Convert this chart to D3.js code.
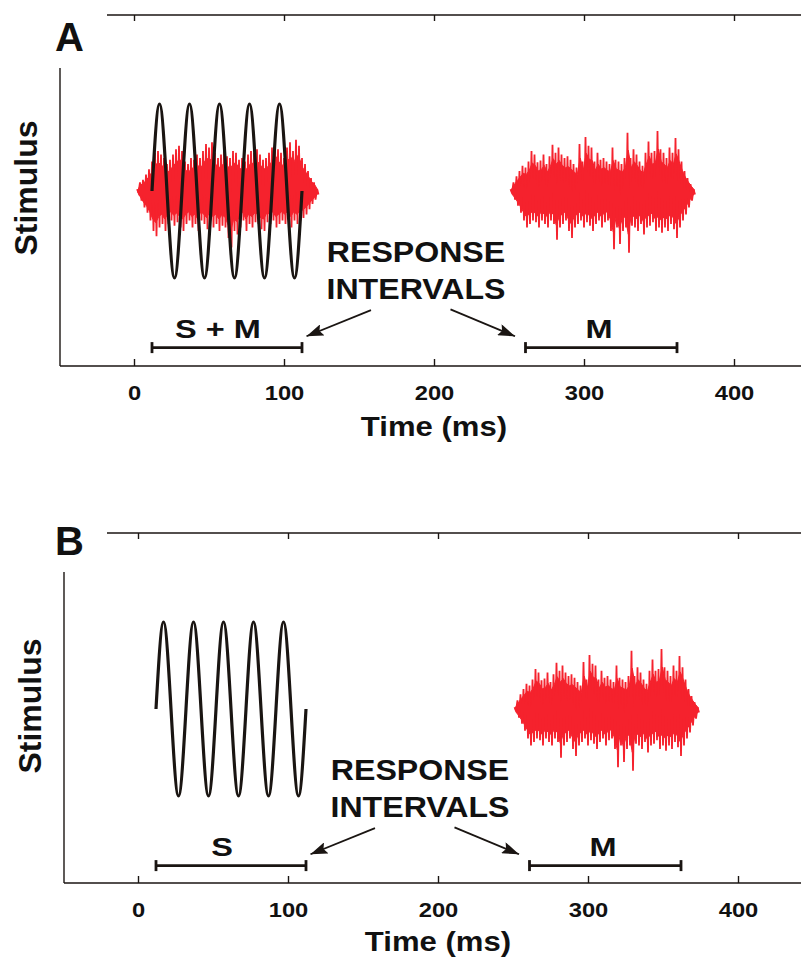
<!DOCTYPE html>
<html>
<head>
<meta charset="utf-8">
<script src="https://cdn.jsdelivr.net/npm/d3@7"></script>
<style>
  body { margin: 0; background: #fff; }
  svg text { font-family: "Liberation Sans", Arial, Helvetica, sans-serif; font-weight: bold; fill: #111; }
</style>
</head>
<body>
<svg id="fig" width="801" height="963"></svg>
<script>
// ---- Time axis ----
const tickValues = [0, 100, 200, 300, 400];
const tickLabels = ["0", "100", "200", "300", "400"];

// ---- Signal tone: zero crossings and extremes (ms, stimulus units) ----
const toneTimes  = [12, 17, 22, 27, 32, 37, 42, 47, 52, 57, 62, 67, 72, 77, 82, 87, 92, 97, 102, 107, 112];
const toneValues = [0, 1, 0, -1, 0, 1, 0, -1, 0, 1, 0, -1, 0, 1, 0, -1, 0, 1, 0, -1, 0];

// ---- Masker noise: positive / negative excursions in 2 ms bins ----
const noiseStep = 2;
const maskerOnset = 251;
const maskerUpper = [0.02,0.10,0.17,0.23,0.29,0.27,0.34,0.46,0.42,0.33,
                     0.35,0.42,0.31,0.40,0.53,0.44,0.50,0.42,0.38,0.40,
                     0.36,0.31,0.27,0.54,0.34,0.62,0.52,0.50,0.34,0.44,
                     0.36,0.38,0.34,0.31,0.50,0.36,0.34,0.31,0.38,0.67,
                     0.38,0.48,0.42,0.34,0.29,0.44,0.57,0.44,0.46,0.69,
                     0.48,0.44,0.38,0.50,0.44,0.61,0.48,0.34,0.23,0.15,
                     0.08,0.02];
const maskerLower = [-0.02,-0.10,-0.17,-0.25,-0.34,-0.42,-0.38,-0.34,-0.36,-0.42,
                     -0.34,-0.38,-0.42,-0.34,-0.38,-0.56,-0.42,-0.38,-0.34,-0.46,
                     -0.54,-0.42,-0.38,-0.34,-0.42,-0.36,-0.40,-0.46,-0.38,-0.34,
                     -0.42,-0.36,-0.34,-0.46,-0.67,-0.42,-0.61,-0.46,-0.42,-0.71,
                     -0.40,-0.42,-0.46,-0.38,-0.50,-0.42,-0.40,-0.36,-0.46,-0.42,
                     -0.48,-0.42,-0.46,-0.38,-0.44,-0.54,-0.42,-0.34,-0.27,-0.19,
                     -0.11,-0.04];

// Noise presented together with the tone (panel A, first interval)
const simOnset = 2;
const simUpper = [0.02,0.10,0.13,0.19,0.25,0.34,0.44,0.46,0.42,0.38,
                  0.31,0.36,0.42,0.48,0.52,0.46,0.34,0.31,0.38,0.36,
                  0.42,0.38,0.46,0.54,0.50,0.56,0.44,0.38,0.42,0.46,
                  0.40,0.38,0.46,0.44,0.36,0.38,0.34,0.42,0.46,0.44,
                  0.48,0.42,0.36,0.38,0.44,0.50,0.57,0.48,0.44,0.38,
                  0.50,0.56,0.46,0.59,0.52,0.38,0.31,0.23,0.15,0.10,
                  0.02];
const simLower = [-0.02,-0.11,-0.19,-0.25,-0.34,-0.46,-0.52,-0.42,-0.38,-0.46,
                  -0.38,-0.34,-0.40,-0.36,-0.42,-0.46,-0.38,-0.34,-0.42,-0.38,
                  -0.46,-0.34,-0.38,-0.44,-0.34,-0.42,-0.38,-0.46,-0.40,-0.42,
                  -0.54,-0.65,-0.46,-0.50,-0.42,-0.34,-0.46,-0.38,-0.42,-0.36,
                  -0.38,-0.44,-0.46,-0.36,-0.38,-0.34,-0.42,-0.38,-0.34,-0.38,
                  -0.33,-0.42,-0.34,-0.38,-0.34,-0.31,-0.27,-0.21,-0.15,-0.10,
                  -0.04];

// ---- Response intervals (ms) ----
const intervalLabelsA = ["S + M", "M"];
const intervalLabelsB = ["S", "M"];
const intervalStarts  = [12, 261];
const intervalEnds    = [112, 362];
const intervalLabelAt = [56, 310];

const responseLines = ["RESPONSE", "INTERVALS"];

// ---- Panel layout ----
const W = 801;
const panels = [
  { letter: "A", letterY: 51, zeroX: 134, leftX: 60, topY: 15, plotTop: 68, plotBottom: 366,
    zeroY: 191, tickY: 400, titleY: 436, ylabX: 37, ylabY: 188,
    labels: intervalLabelsA, tone: true, noise: [[simOnset, simUpper, simLower], [maskerOnset, maskerUpper, maskerLower]] },
  { letter: "B", letterY: 555, zeroX: 138, leftX: 64, topY: 533, plotTop: 572, plotBottom: 883,
    zeroY: 709, tickY: 917, titleY: 951, ylabX: 41, ylabY: 706,
    labels: intervalLabelsB, tone: true, noise: [[maskerOnset, maskerUpper, maskerLower]] }
];

const svg = d3.select("#fig");
const ink = "#1a1512";
const red = "#f5222d";

// widen bold lettering horizontally by factor k
function widen(sel, k) {
  sel.each(function () {
    const len = this.getComputedTextLength();
    d3.select(this).attr("textLength", len * k).attr("lengthAdjust", "spacingAndGlyphs");
  });
}

svg.append("defs").append("marker")
  .attr("id", "head").attr("markerUnits", "userSpaceOnUse")
  .attr("viewBox", "0 0 17 12").attr("markerWidth", 17).attr("markerHeight", 12)
  .attr("refX", 17).attr("refY", 6).attr("orient", "auto")
  .append("path").attr("d", "M0,0 L17,6 L0,12 L3,6 Z").attr("fill", ink);

panels.forEach(p => {
  const x = d3.scaleLinear().domain([0, 400]).range([p.zeroX, p.zeroX + 600]);
  const y = d3.scaleLinear().domain([-1, 1]).range([p.zeroY + 87, p.zeroY - 87]);
  const g = svg.append("g");

  // top frame axis, ticks pointing down, no labels
  const topAxis = d3.axisTop(x).tickValues(tickValues).tickFormat("").tickSizeInner(-6).tickSizeOuter(0);
  const gt = g.append("g").attr("transform", `translate(0,${p.topY})`).call(topAxis);
  gt.select(".domain").remove();
  gt.selectAll("line").attr("stroke", ink).attr("stroke-width", 1.4);
  g.append("line").attr("x1", 107).attr("x2", W).attr("y1", p.topY).attr("y2", p.topY)
    .attr("stroke", ink).attr("stroke-width", 1.4);

  // bottom time axis, ticks pointing up
  const botAxis = d3.axisBottom(x).tickValues(tickValues).tickFormat((d, i) => tickLabels[i])
    .tickSizeInner(-7).tickSizeOuter(0);
  const gb = g.append("g").attr("transform", `translate(0,${p.plotBottom})`).call(botAxis);
  gb.select(".domain").remove();
  gb.selectAll("line").attr("stroke", ink).attr("stroke-width", 1.4);
  gb.selectAll("text").attr("y", p.tickY - p.plotBottom).attr("dy", null)
    .attr("font-size", 21).attr("font-family", null).attr("fill", null)
    .call(widen, 1.13);
  g.append("line").attr("x1", p.leftX).attr("x2", W).attr("y1", p.plotBottom).attr("y2", p.plotBottom)
    .attr("stroke", ink).attr("stroke-width", 1.4);

  // left stimulus axis
  g.append("line").attr("x1", p.leftX).attr("x2", p.leftX).attr("y1", p.plotTop).attr("y2", p.plotBottom)
    .attr("stroke", ink).attr("stroke-width", 1.4);

  // titles
  g.append("text").attr("x", x(200)).attr("y", p.titleY).attr("text-anchor", "middle")
    .attr("font-size", 28).text("Time (ms)").call(widen, 1.11);
  g.append("text").attr("transform", `translate(${p.ylabX},${p.ylabY}) rotate(-90)`)
    .attr("text-anchor", "middle").attr("font-size", 32).text("Stimulus");
  g.append("text").attr("x", 55).attr("y", p.letterY).attr("font-size", 40).text(p.letter);

  // noise waveforms: solid body plus alternating positive / negative excursions
  const wave = d3.line().x(d => x(d[0])).y(d => y(d[1]));
  const body = d3.area().x((d, i) => x(d[0])).y0(d => y(d[2])).y1(d => y(d[1]));
  p.noise.forEach(([onset, up, lo]) => {
    const pts = [];
    const bins = [];
    up.forEach((v, i) => {
      pts.push([onset + i * noiseStep, v]);
      pts.push([onset + i * noiseStep + noiseStep / 2, lo[i]]);
      bins.push([onset + i * noiseStep + noiseStep / 4, v * 0.7, lo[i] * 0.7]);
    });
    g.append("path").attr("d", body(bins)).attr("fill", red).attr("stroke", red).attr("stroke-width", 1);
    g.append("path").attr("d", wave(pts)).attr("fill", "none")
      .attr("stroke", red).attr("stroke-width", 1.8).attr("stroke-linejoin", "miter");
  });

  // tone
  if (p.tone) {
    const tone = d3.line().x((d, i) => x(toneTimes[i])).y((d, i) => y(toneValues[i])).curve(d3.curveNatural);
    g.append("path").attr("d", tone(toneTimes)).attr("fill", "none")
      .attr("stroke", ink).attr("stroke-width", 3.2);
  }

  // response-interval bars
  const barY = y(-1.8);
  intervalStarts.forEach((s, i) => {
    const e = intervalEnds[i];
    g.append("line").attr("x1", x(s)).attr("x2", x(e)).attr("y1", barY).attr("y2", barY)
      .attr("stroke", ink).attr("stroke-width", 2.8);
    [s, e].forEach(t => g.append("line").attr("x1", x(t)).attr("x2", x(t))
      .attr("y1", barY - 5.5).attr("y2", barY + 5.5).attr("stroke", ink).attr("stroke-width", 2.8));
    g.append("text").attr("x", x(intervalLabelAt[i])).attr("y", barY - 10)
      .attr("text-anchor", "middle").attr("font-size", 26).text(p.labels[i]).call(widen, 1.25);
  });

  // response-interval caption and arrows
  g.append("text").attr("x", x(188)).attr("y", y(-0.82)).attr("text-anchor", "middle")
    .attr("font-size", 30).text(responseLines[0]).call(widen, 1.07);
  g.append("text").attr("x", x(188)).attr("y", y(-1.24)).attr("text-anchor", "middle")
    .attr("font-size", 30).text(responseLines[1]).call(widen, 1.07);
  [[158, -1.37, 115, -1.67], [211, -1.36, 254, -1.67]].forEach(([t1, v1, t2, v2]) => {
    g.append("line").attr("x1", x(t1)).attr("y1", y(v1)).attr("x2", x(t2)).attr("y2", y(v2))
      .attr("stroke", ink).attr("stroke-width", 1.8).attr("marker-end", "url(#head)");
  });
});
</script>
</body>
</html>
